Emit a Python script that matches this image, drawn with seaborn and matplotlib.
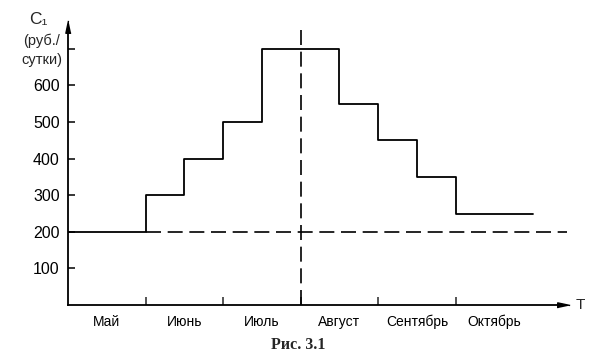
import numpy as np
import pandas as pd
import matplotlib
matplotlib.use("Agg")
import matplotlib.pyplot as plt
import seaborn as sns

# step edges (in months from start of May) and tariff levels
edges = [0, 1, 1.5, 2, 2.5, 3.5, 4, 4.5, 5, 6]
levels = [200, 300, 400, 500, 700, 550, 450, 350, 250, 250]
months = ["Май", "Июнь", "Июль", "Август", "Сентябрь", "Октябрь"]
y_ticks = [100, 200, 300, 400, 500, 600, 700]
y_labels = ["100", "200", "300", "400", "500", "600", ""]
base_level = 200
peak_month = 3

df = pd.DataFrame({"T": edges, "C1": levels})

sns.set_theme(style="white")
plt.rcParams["font.family"] = ["Liberation Sans", "DejaVu Sans"]

fig = plt.figure(figsize=(6, 3.6), dpi=100)
ax = fig.add_axes([68 / 600, 55 / 360, 494 / 600, 277 / 360])

sns.lineplot(data=df, x="T", y="C1", ax=ax, color="black", lw=1.3,
             drawstyle="steps-post", estimator=None)

# dashed base level and the vertical dashed line at August
ax.hlines(base_level, 1, 6.44, colors="black", lw=1.2, linestyles=(0, (9, 4)), clip_on=False)
ax.vlines(peak_month, 0, 755, colors="black", lw=1.2, linestyles=(0, (9, 4)), clip_on=False)

ax.set_xlim(0, 6.37)
ax.set_ylim(0, 757)

for s in ["top", "right"]:
    ax.spines[s].set_visible(False)
for s in ["left", "bottom"]:
    ax.spines[s].set_color("black")
    ax.spines[s].set_linewidth(1.3)

ax.set_yticks(y_ticks)
ax.set_yticklabels(y_labels, fontsize=11.5)
ax.set_xticks(range(1, len(months)))
ax.set_xticklabels([])
ax.set_xticks(np.arange(len(months)) + 0.5, minor=True)
ax.set_xticklabels(months, minor=True, fontsize=10)
ax.tick_params(axis="y", direction="in", length=5, width=1.1, pad=6, colors="black", left=True)
ax.tick_params(axis="x", which="major", direction="in", length=6, width=1.1, bottom=True)
ax.tick_params(axis="x", which="minor", length=0, pad=7, colors="black")
ax.set_xlabel("")
ax.set_ylabel("")

# axis arrows
arrow_up = [(0, 1.6), (-0.55, -1.0), (0.55, -1.0)]
arrow_right = [(1.6, 0), (-1.0, 0.55), (-1.0, -0.55)]
ax.plot(0, 1, marker=arrow_up, ms=11, color="black", transform=ax.transAxes, clip_on=False)
ax.plot(1, 0, marker=arrow_right, ms=11, color="black", transform=ax.transAxes, clip_on=False)

ax.text(-0.06, 781, "C\u2081", ha="center", va="center", fontsize=12.5,
        transform=ax.get_yaxis_transform())
ax.text(-0.012, 695, "(руб./\nсутки)", ha="right", va="center",
        multialignment="center", linespacing=1.45, fontsize=10.5,
        transform=ax.get_yaxis_transform())
ax.text(1.028, 0.0, "T", ha="left", va="center", fontsize=11, transform=ax.transAxes)

fig.text(0.497, 0.042, "Рис. 3.1", ha="center", va="center", fontsize=11.5,
         family=["Liberation Serif", "DejaVu Serif"], fontweight="bold")

fig.savefig("out.png", dpi=100)
